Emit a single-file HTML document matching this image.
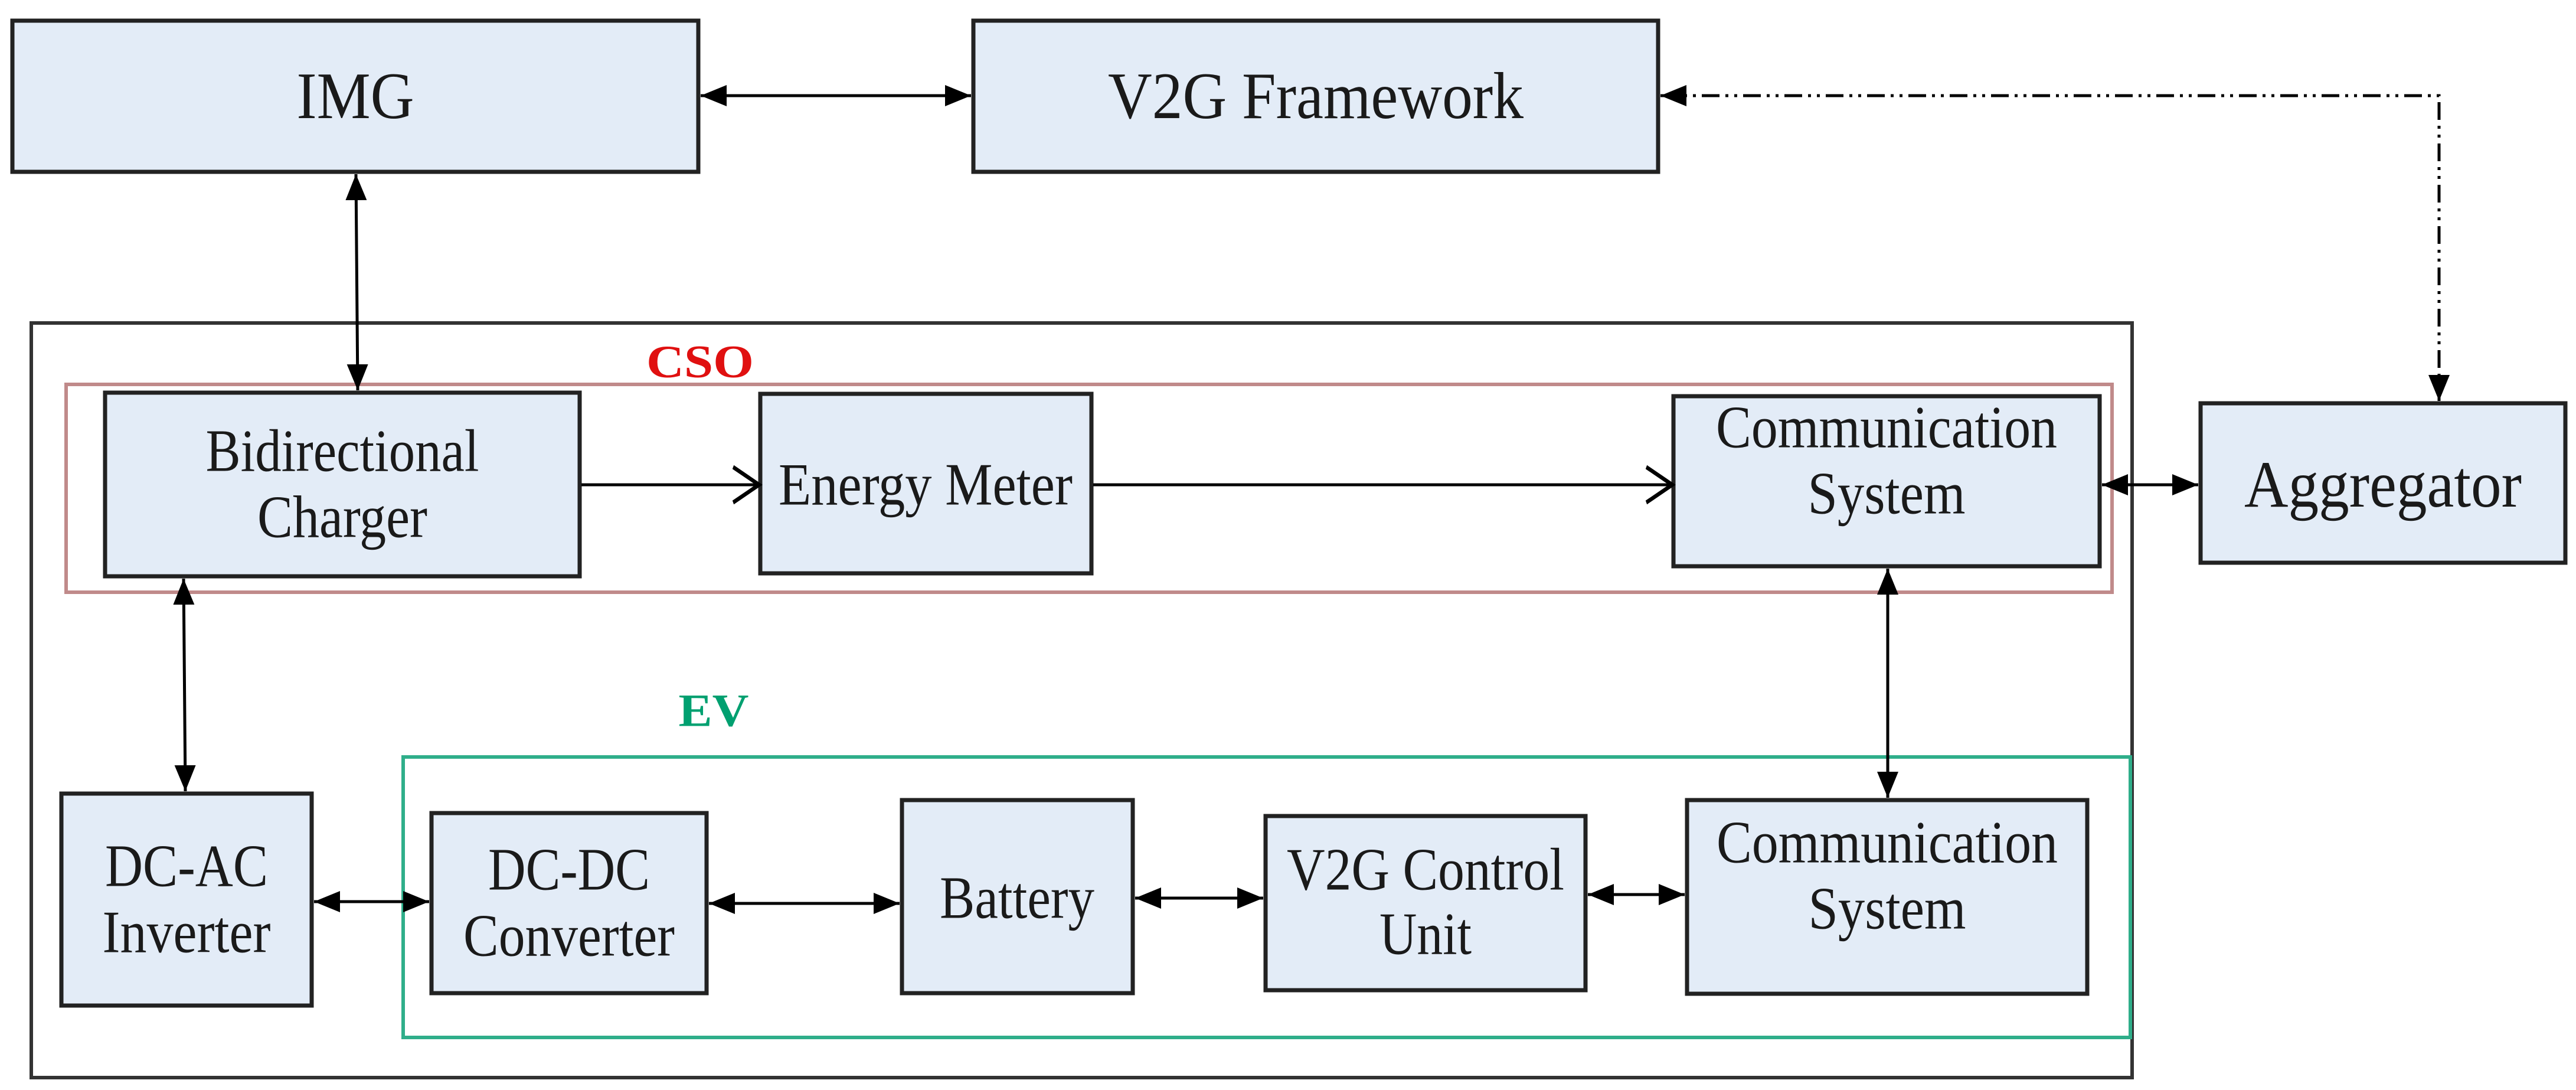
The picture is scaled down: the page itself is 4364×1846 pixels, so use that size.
<!DOCTYPE html>
<html><head><meta charset="utf-8"><style>
html,body{margin:0;padding:0;background:#fff}
svg{display:block}
text{font-family:"Liberation Serif",serif;fill:#1a1a1a;text-anchor:middle;dominant-baseline:central}
.b{fill:#e3ecf7;stroke:#222;stroke-width:7}
.l{stroke:#000;stroke-width:5;fill:none}
.t{font-size:102px}
</style></head><body>
<svg width="4364" height="1846" viewBox="0 0 4364 1846" xmlns="http://www.w3.org/2000/svg">
<defs>
<marker id="a" viewBox="0 0 10 10" refX="10" refY="5" markerWidth="44" markerHeight="36" markerUnits="userSpaceOnUse" orient="auto-start-reverse" preserveAspectRatio="none">
<path d="M0,0 L10,5 L0,10 z" fill="#000"/>
</marker>
<marker id="o" viewBox="0 0 10 10" refX="10" refY="5" markerWidth="44" markerHeight="60" markerUnits="userSpaceOnUse" orient="auto" preserveAspectRatio="none" style="overflow:visible">
<path d="M0,0 L10,5 L0,10" fill="none" stroke="#000" stroke-width="1.2"/>
</marker>
</defs>

<rect x="53" y="547" width="3559" height="1278" fill="none" stroke="#333" stroke-width="6"/>
<rect x="112" y="651" width="3466" height="352" fill="none" stroke="#c08a8a" stroke-width="6"/>
<text x="1186" y="612" textLength="182" lengthAdjust="spacingAndGlyphs" style="font-size:78px;font-weight:bold;fill:#e01010">CSO</text>
<rect x="683" y="1282" width="2926" height="475" fill="none" stroke="#2fae8a" stroke-width="6"/>
<text x="1209" y="1203" textLength="119" lengthAdjust="spacingAndGlyphs" style="font-size:78px;font-weight:bold;fill:#00a070">EV</text>

<rect class="b" x="21" y="35" width="1162" height="256"/>
<text x="602" y="163" textLength="199" lengthAdjust="spacingAndGlyphs" style="font-size:112px">IMG</text>
<rect class="b" x="1649" y="35" width="1160" height="256"/>
<text x="2229" y="163" textLength="704" lengthAdjust="spacingAndGlyphs" style="font-size:112px">V2G Framework</text>

<rect class="b" x="178" y="665" width="804" height="311"/>
<text class="t" x="580" y="764" textLength="463" lengthAdjust="spacingAndGlyphs">Bidirectional</text>
<text class="t" x="580" y="876" textLength="288" lengthAdjust="spacingAndGlyphs">Charger</text>
<rect class="b" x="1288" y="667" width="561" height="304"/>
<text class="t" x="1568" y="821" textLength="498" lengthAdjust="spacingAndGlyphs">Energy Meter</text>
<rect class="b" x="2835" y="671" width="722" height="288"/>
<text class="t" x="3196" y="724" textLength="578" lengthAdjust="spacingAndGlyphs">Communication</text>
<text class="t" x="3196" y="836" textLength="267" lengthAdjust="spacingAndGlyphs">System</text>

<rect class="b" x="3728" y="683" width="618" height="270"/>
<text x="4037" y="821" textLength="470" lengthAdjust="spacingAndGlyphs" style="font-size:112px">Aggregator</text>

<rect class="b" x="104" y="1344" width="424" height="359"/>
<text class="t" x="316" y="1467" textLength="276" lengthAdjust="spacingAndGlyphs">DC-AC</text>
<text class="t" x="316" y="1579" textLength="285" lengthAdjust="spacingAndGlyphs">Inverter</text>
<rect class="b" x="731" y="1377" width="466" height="305"/>
<text class="t" x="964" y="1473" textLength="274" lengthAdjust="spacingAndGlyphs">DC-DC</text>
<text class="t" x="964" y="1585" textLength="358" lengthAdjust="spacingAndGlyphs">Converter</text>
<rect class="b" x="1528" y="1355" width="391" height="327"/>
<text class="t" x="1723" y="1521" textLength="262" lengthAdjust="spacingAndGlyphs">Battery</text>
<rect class="b" x="2144" y="1382" width="542" height="295"/>
<text class="t" x="2415" y="1473" textLength="470" lengthAdjust="spacingAndGlyphs">V2G Control</text>
<text class="t" x="2415" y="1582" textLength="156" lengthAdjust="spacingAndGlyphs">Unit</text>
<rect class="b" x="2858" y="1355" width="678" height="328"/>
<text class="t" x="3197" y="1427" textLength="578" lengthAdjust="spacingAndGlyphs">Communication</text>
<text class="t" x="3197" y="1539" textLength="267" lengthAdjust="spacingAndGlyphs">System</text>

<line class="l" x1="1187" y1="162" x2="1645" y2="162" marker-start="url(#a)" marker-end="url(#a)"/>
<line class="l" x1="603" y1="295" x2="606" y2="661" stroke-width="3" marker-start="url(#a)" marker-end="url(#a)"/>
<line class="l" x1="311" y1="980" x2="314" y2="1340" stroke-width="3" marker-start="url(#a)" marker-end="url(#a)"/>
<line class="l" x1="3198" y1="963" x2="3198" y2="1351" stroke-width="3" marker-start="url(#a)" marker-end="url(#a)"/>
<line class="l" x1="985" y1="821" x2="1286" y2="821" marker-end="url(#o)"/>
<line class="l" x1="1852" y1="821" x2="2833" y2="821" marker-end="url(#o)"/>
<line class="l" x1="3561" y1="821" x2="3724" y2="821" marker-start="url(#a)" marker-end="url(#a)"/>
<polyline class="l" points="2813,162 4132,162 4132,679" stroke-width="4" stroke-dasharray="30,10,5,10,5,10" marker-start="url(#a)" marker-end="url(#a)"/>
<line class="l" x1="532" y1="1527" x2="727" y2="1527" marker-start="url(#a)" marker-end="url(#a)"/>
<line class="l" x1="1201" y1="1530" x2="1524" y2="1530" marker-start="url(#a)" marker-end="url(#a)"/>
<line class="l" x1="1923" y1="1521" x2="2140" y2="1521" marker-start="url(#a)" marker-end="url(#a)"/>
<line class="l" x1="2690" y1="1515" x2="2854" y2="1515" marker-start="url(#a)" marker-end="url(#a)"/>
</svg>
</body></html>
